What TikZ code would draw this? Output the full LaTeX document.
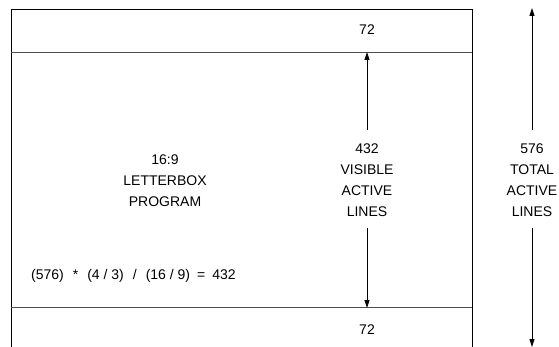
\documentclass[tikz,border=0pt]{standalone}
\usepackage{fontspec}
\setmainfont{Liberation Sans}
\usetikzlibrary{arrows.meta}
\begin{document}
\begin{tikzpicture}[x=1pt,y=-1pt,
  lbl/.style={font=\fontsize{14}{21}\selectfont, align=center, inner sep=0pt},
  frame/.style={line width=0.9pt, black},
  band/.style={line width=1.4pt, black!70},
  dim/.style={line width=0.8pt, -{Triangle[length=8pt,width=5pt]}}]
\useasboundingbox (0,0) rectangle (559,347);
% box
\coordinate (bl) at (11,347);
\coordinate (tl) at (11,9);
\coordinate (tr) at (472,9);
\coordinate (br) at (472,347);
\draw[frame] (bl) -- (tl) -- (tr) -- (br);
\coordinate (l1a) at (11,52.5);
\coordinate (l1b) at (472,52.5);
\coordinate (l2a) at (11,307.5);
\coordinate (l2b) at (472,307.5);
\draw[band] (l1a) -- (l1b);
\draw[band] (l2a) -- (l2b);
% texts
\node[lbl] (t72) at (367,30) {72};
\node[lbl] (b72) at (367,330) {72};
\node[lbl] (prog) at (165,181) {16:9\\LETTERBOX\\PROGRAM};
\node[lbl, anchor=west] (form) at (31,276) {(576)\hspace{9pt}*\hspace{9pt}(4 / 3)\hspace{9pt}/\hspace{9pt}(16 / 9)\hspace{7pt}=\hspace{7pt}432};
\node[lbl] (vis) at (367,180.5) {432\\VISIBLE\\ACTIVE\\LINES};
\node[lbl] (tot) at (532,180.5) {576\\TOTAL\\ACTIVE\\LINES};
% arrows
\coordinate (vA) at (367,130);
\coordinate (vB) at (367,228);
\coordinate (tA) at (532,130);
\coordinate (tB) at (532,228);
\coordinate (vtop) at (367,52);
\coordinate (vbot) at (367,308);
\coordinate (ttop) at (532,8);
\coordinate (tbot) at (532,347);
\draw[dim] (vA) -- (vtop);
\draw[dim] (vB) -- (vbot);
\draw[dim] (tA) -- (ttop);
\draw[dim] (tB) -- (tbot);
\end{tikzpicture}
\end{document}
